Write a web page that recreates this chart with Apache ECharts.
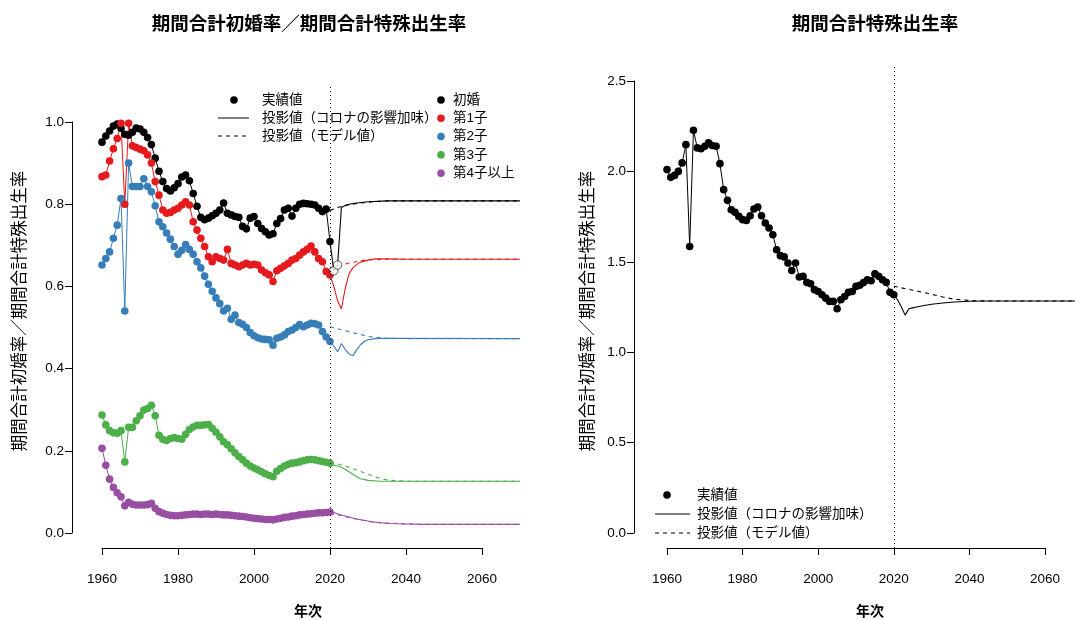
<!DOCTYPE html>
<html><head><meta charset="utf-8">
<script src="https://cdn.jsdelivr.net/npm/echarts@6/dist/echarts.min.js"></script>
<style>html,body{margin:0;padding:0;background:#fff}#c{width:1075px;height:620px}</style>
</head><body><div id="c"></div>
<script>
// ---------- DATA ----------
const startYear = 1960; // actual values are yearly from 1960 to 2020
const marriage = [0.951,0.966,0.978,0.990,0.995,0.985,0.970,0.968,0.975,0.985,0.983,0.975,0.962,0.945,0.912,0.880,0.855,0.838,0.832,0.840,0.850,0.866,0.871,0.857,0.826,0.795,0.768,0.762,0.766,0.772,0.778,0.786,0.803,0.778,0.774,0.770,0.768,0.746,0.740,0.766,0.770,0.753,0.741,0.733,0.725,0.728,0.753,0.765,0.786,0.790,0.771,0.790,0.800,0.802,0.801,0.800,0.798,0.790,0.782,0.788,0.709];
const birth1 = [0.867,0.871,0.905,0.935,0.960,0.997,0.800,0.997,0.942,0.938,0.934,0.930,0.920,0.900,0.855,0.822,0.786,0.778,0.780,0.786,0.790,0.798,0.806,0.798,0.757,0.737,0.717,0.697,0.672,0.660,0.672,0.668,0.664,0.690,0.656,0.652,0.648,0.652,0.656,0.652,0.654,0.652,0.640,0.633,0.628,0.612,0.638,0.644,0.650,0.656,0.664,0.668,0.676,0.684,0.690,0.698,0.684,0.668,0.660,0.636,0.628];
const birth2 = [0.652,0.668,0.684,0.717,0.749,0.814,0.540,0.900,0.843,0.843,0.843,0.862,0.843,0.830,0.796,0.757,0.745,0.730,0.715,0.697,0.678,0.688,0.702,0.690,0.678,0.660,0.645,0.625,0.605,0.588,0.572,0.558,0.540,0.547,0.520,0.530,0.512,0.508,0.500,0.488,0.480,0.475,0.472,0.471,0.470,0.457,0.474,0.477,0.482,0.490,0.494,0.500,0.507,0.502,0.506,0.510,0.509,0.506,0.490,0.477,0.466];
const birth3 = [0.287,0.263,0.249,0.244,0.243,0.249,0.173,0.257,0.257,0.273,0.285,0.299,0.303,0.311,0.285,0.238,0.228,0.225,0.230,0.232,0.230,0.228,0.240,0.252,0.258,0.262,0.262,0.263,0.264,0.255,0.245,0.234,0.222,0.215,0.205,0.195,0.186,0.178,0.170,0.163,0.158,0.154,0.149,0.144,0.140,0.137,0.150,0.157,0.163,0.167,0.170,0.171,0.173,0.176,0.178,0.179,0.178,0.176,0.174,0.172,0.170];
const birth4 = [0.206,0.165,0.131,0.111,0.098,0.088,0.066,0.075,0.070,0.068,0.068,0.068,0.069,0.072,0.060,0.052,0.048,0.045,0.043,0.042,0.042,0.043,0.044,0.045,0.046,0.046,0.045,0.046,0.046,0.045,0.046,0.045,0.044,0.044,0.043,0.042,0.041,0.040,0.039,0.037,0.036,0.035,0.034,0.033,0.033,0.032,0.034,0.036,0.038,0.039,0.041,0.042,0.044,0.045,0.046,0.047,0.048,0.049,0.049,0.050,0.051];
const tfr = [2.010,1.967,1.978,2.000,2.047,2.148,1.585,2.228,2.130,2.125,2.139,2.158,2.143,2.139,2.043,1.899,1.840,1.788,1.774,1.751,1.733,1.729,1.755,1.792,1.803,1.755,1.715,1.687,1.650,1.567,1.534,1.527,1.493,1.452,1.493,1.416,1.420,1.386,1.379,1.346,1.336,1.318,1.299,1.281,1.281,1.240,1.290,1.308,1.331,1.336,1.364,1.370,1.385,1.400,1.395,1.433,1.420,1.401,1.386,1.331,1.318];

// projections: [year, value]
const marriageCovid = [[2020,0.709],[2021,0.638],[2022,0.652],[2023,0.792],[2024,0.797],[2025,0.800],[2027,0.803],[2030,0.806],[2035,0.808],[2040,0.808],[2070,0.808]];
const marriageModel = [[2020,0.785],[2022,0.792],[2025,0.799],[2030,0.805],[2035,0.808],[2070,0.808]];
const marriageOpen = [[2021,0.638],[2022,0.652]];
const birth1Covid = [[2020,0.628],[2021,0.600],[2022,0.565],[2023,0.545],[2024,0.595],[2025,0.630],[2026,0.645],[2027,0.653],[2028,0.659],[2030,0.664],[2032,0.667],[2035,0.667],[2040,0.666],[2070,0.666]];
const birth1Model = [[2020,0.645],[2021,0.648],[2023,0.652],[2025,0.657],[2028,0.662],[2030,0.665],[2035,0.666],[2070,0.666]];
const birth2Covid = [[2020,0.468],[2021,0.455],[2022,0.441],[2023,0.461],[2024,0.447],[2025,0.436],[2026,0.431],[2027,0.445],[2028,0.458],[2029,0.466],[2030,0.470],[2032,0.473],[2035,0.474],[2070,0.473]];
const birth2Model = [[2020,0.502],[2022,0.497],[2025,0.490],[2028,0.483],[2031,0.477],[2034,0.474],[2040,0.473],[2070,0.473]];
const birth3Covid = [[2020,0.170],[2021,0.165],[2022,0.163],[2023,0.160],[2024,0.155],[2025,0.149],[2026,0.143],[2027,0.137],[2028,0.132],[2030,0.128],[2033,0.126],[2070,0.126]];
const birth3Model = [[2020,0.170],[2022,0.168],[2024,0.163],[2026,0.157],[2028,0.150],[2030,0.143],[2032,0.136],[2034,0.131],[2036,0.128],[2040,0.126],[2070,0.126]];
const birth4Covid = [[2020,0.051],[2021,0.050],[2022,0.047],[2023,0.044],[2025,0.039],[2027,0.034],[2030,0.029],[2033,0.025],[2036,0.023],[2040,0.022],[2045,0.021],[2070,0.021]];
const birth4Model = [[2020,0.048],[2022,0.044],[2025,0.038],[2028,0.032],[2031,0.027],[2035,0.024],[2040,0.022],[2045,0.021],[2070,0.021]];
const tfrCovid = [[2020,1.318],[2021,1.290],[2022,1.250],[2023,1.205],[2024,1.240],[2025,1.245],[2026,1.250],[2028,1.258],[2030,1.265],[2033,1.272],[2036,1.278],[2040,1.282],[2045,1.283],[2070,1.283]];
const tfrModel = [[2020,1.365],[2022,1.356],[2025,1.343],[2028,1.330],[2030,1.320],[2033,1.305],[2036,1.293],[2040,1.286],[2045,1.283],[2070,1.283]];

const leftSeriesNames = ['初婚','第1子','第2子','第3子','第4子以上'];
const leftColors = ['#000000','#E41A1C','#377EB8','#4DAF4A','#984EA3'];
const legendTypeNames = ['実績値','投影値（コロナの影響加味）','投影値（モデル値）'];
const titleLeft = '期間合計初婚率／期間合計特殊出生率';
const titleRight = '期間合計特殊出生率';
const yNameText = '期間合計初婚率／期間合計特殊出生率';
const xNameText = '年次';
const leftYTicks = {min:0, max:1, interval:0.2};
const rightYTicks = {min:0, max:2.5, interval:0.5};
const xTicks = {min:1960, max:2060, interval:20};

// ---------- CHART ----------
const FONT = '"Liberation Sans", Arial, "Noto Sans CJK JP", sans-serif';
const chart = echarts.init(document.getElementById('c'), null, {renderer:'canvas'});
const withYears = arr => arr.map((v,i)=>[startYear+i, v]);

// pixel layout
const L = {x0:102, x1:520, yTop:85, yBot:548, v0:533, v1:122}; // left panel
const R = {x0:667, xEnd:1075, yTop:64, yBot:548, v0:533, v25:81};
const lPx = (L.v0-L.v1)/1.0;         // px per unit
const rPx = (R.v0-R.v25)/2.5;
const rXpx = 3.78;

const grids = [
  {left:L.x0, width:L.x1-L.x0, top:L.yTop, height:L.yBot-L.yTop},           // 0 left data
  {left:72, width:10, top:L.v1, height:L.v0-L.v1},                          // 1 left y axis
  {left:L.x0, width:380, top:540, height:8},                                // 2 left x axis
  {left:R.x0, width:R.xEnd-R.x0, top:R.yTop, height:R.yBot-R.yTop},         // 3 right data
  {left:634, width:10, top:R.v25, height:R.v0-R.v25},                       // 4 right y axis
  {left:R.x0, width:378, top:540, height:8}                                 // 5 right x axis
];
const axisFont = {fontFamily:FONT, fontSize:13.5, color:'#000'};
const hiddenX = gi => ({type:'value', gridIndex:gi, show:false, min:0, max:1});
const hiddenY = gi => ({type:'value', gridIndex:gi, show:false, min:0, max:1});
const xAxisVis = gi => ({type:'value', gridIndex:gi, position:'bottom', min:xTicks.min, max:xTicks.max, interval:xTicks.interval,
  axisLine:{show:true, lineStyle:{color:'#000', width:1}}, axisTick:{show:true, length:7, lineStyle:{color:'#000'}},
  axisLabel:{...axisFont, margin:25, formatter:v=>String(v)}, splitLine:{show:false}});
const yAxisVis = (gi, t) => ({type:'value', gridIndex:gi, position:'left', min:t.min, max:t.max, interval:t.interval,
  axisLine:{show:true, lineStyle:{color:'#000', width:1}}, axisTick:{show:true, length:7, lineStyle:{color:'#000'}},
  axisLabel:{...axisFont, margin:8, formatter:v=>v.toFixed(1)}, splitLine:{show:false}});

const xAxes = [
  {type:'value', gridIndex:0, show:false, min:1960, max:2070},
  hiddenX(1),
  xAxisVis(2),
  {type:'value', gridIndex:3, show:false, min:1960, max:1960+(R.xEnd-R.x0)/rXpx},
  hiddenX(4),
  xAxisVis(5)
];
const yAxes = [
  {type:'value', gridIndex:0, show:false, min:-(L.yBot-L.v0)/lPx, max:(L.v0-L.yTop)/lPx},
  yAxisVis(1, leftYTicks),
  hiddenY(2),
  {type:'value', gridIndex:3, show:false, min:-(R.yBot-R.v0)/rPx, max:(R.v0-R.yTop)/rPx},
  yAxisVis(4, rightYTicks),
  hiddenY(5)
];

const series = [];
const actualSeries = (name, data, color, axis) => ({
  name, type:'line', xAxisIndex:axis, yAxisIndex:axis, data, symbol:'circle', symbolSize:7.6, showSymbol:true,
  itemStyle:{color}, lineStyle:{color, width:1}, z:3, silent:true
});
const projSeries = (name, data, color, axis, dashed) => ({
  name, type:'line', xAxisIndex:axis, yAxisIndex:axis, data, symbol:'none', showSymbol:false,
  lineStyle:{color, width:1.1, type: dashed ? [4,4] : 'solid'}, z:2, silent:true
});
const leftActual = [marriage, birth1, birth2, birth3, birth4];
const leftCovid = [marriageCovid, birth1Covid, birth2Covid, birth3Covid, birth4Covid];
const leftModel = [marriageModel, birth1Model, birth2Model, birth3Model, birth4Model];
leftActual.forEach((arr,i)=>{
  series.push(projSeries(leftSeriesNames[i]+'model', leftModel[i], leftColors[i], 0, true));
  series.push(projSeries(leftSeriesNames[i]+'covid', leftCovid[i], leftColors[i], 0, false));
});
leftActual.forEach((arr,i)=>{
  series.push(actualSeries(leftSeriesNames[i], withYears(arr), leftColors[i], 0));
});
series.push({type:'scatter', xAxisIndex:0, yAxisIndex:0, data:marriageOpen, symbol:'circle', symbolSize:8.5,
  itemStyle:{color:'#fff', borderColor:'#000', borderWidth:0.8}, z:4, silent:true});
// dotted 2020 reference line, left
series[series.length-1].markLine = {silent:true, symbol:'none', label:{show:false},
  lineStyle:{color:'#000', type:[1,3], width:1}, data:[{xAxis:2020}]};

// right panel
series.push(projSeries('tfrModel', tfrModel, '#000', 3, true));
series.push(projSeries('tfrCovid', tfrCovid, '#000', 3, false));
const rAct = actualSeries('tfr', withYears(tfr), '#000', 3);
rAct.markLine = {silent:true, symbol:'none', label:{show:false}, lineStyle:{color:'#000', type:[1,3], width:1}, data:[{xAxis:2020}]};
series.push(rAct);

// ---------- TEXT / LEGENDS ----------
const txt = (x,y,text,opt={}) => ({type:'text', x, y, silent:true, style:{text, fill:'#000', font:(opt.bold?'bold ':'')+(opt.size||13)+'px '+FONT,
  textAlign:opt.align||'left', textVerticalAlign:'middle'}, rotation:opt.rot||0});
const dot = (x,y,color) => ({type:'circle', silent:true, shape:{cx:x, cy:y, r:3.8}, style:{fill:color}});
const seg = (x1,x2,y,dashed) => ({type:'line', silent:true, shape:{x1, y1:y, x2, y2:y}, style:{stroke:'#000', lineWidth:1, lineDash: dashed?[4,4]:null}});

const graphic = [
  txt(309, 25, titleLeft, {bold:true, size:18.5, align:'center'}),
  txt(875, 25, titleRight, {bold:true, size:18.5, align:'center'}),
  txt(20, 311, yNameText, {size:16.5, align:'center', rot:Math.PI/2}),
  txt(588, 311, yNameText, {size:16.5, align:'center', rot:Math.PI/2}),
  txt(308, 612, xNameText, {bold:true, size:14, align:'center'}),
  txt(870, 612, xNameText, {bold:true, size:14, align:'center'}),
  // left legend (type)
  dot(234, 100, '#000'), txt(262, 100, legendTypeNames[0], {size:13.5}),
  seg(218, 249, 118, false), txt(262, 118, legendTypeNames[1], {size:13.5}),
  seg(218, 249, 136, true), txt(262, 136, legendTypeNames[2], {size:13.5}),
  // right legend
  dot(667, 495, '#000'), txt(697, 495, legendTypeNames[0], {size:13.5}),
  seg(655, 690, 514, false), txt(697, 514, legendTypeNames[1], {size:13.5}),
  seg(655, 690, 533, true), txt(697, 533, legendTypeNames[2], {size:13.5})
];
leftSeriesNames.forEach((n,i)=>{
  const y = 100 + i*18.3;
  graphic.push(dot(441, y, leftColors[i]));
  graphic.push(txt(453, y, n, {size:13.5}));
});

chart.setOption({
  animation:false,
  backgroundColor:'#fff',
  textStyle:{fontFamily:FONT},
  grid:grids, xAxis:xAxes, yAxis:yAxes, series, graphic
});
</script></body></html>
